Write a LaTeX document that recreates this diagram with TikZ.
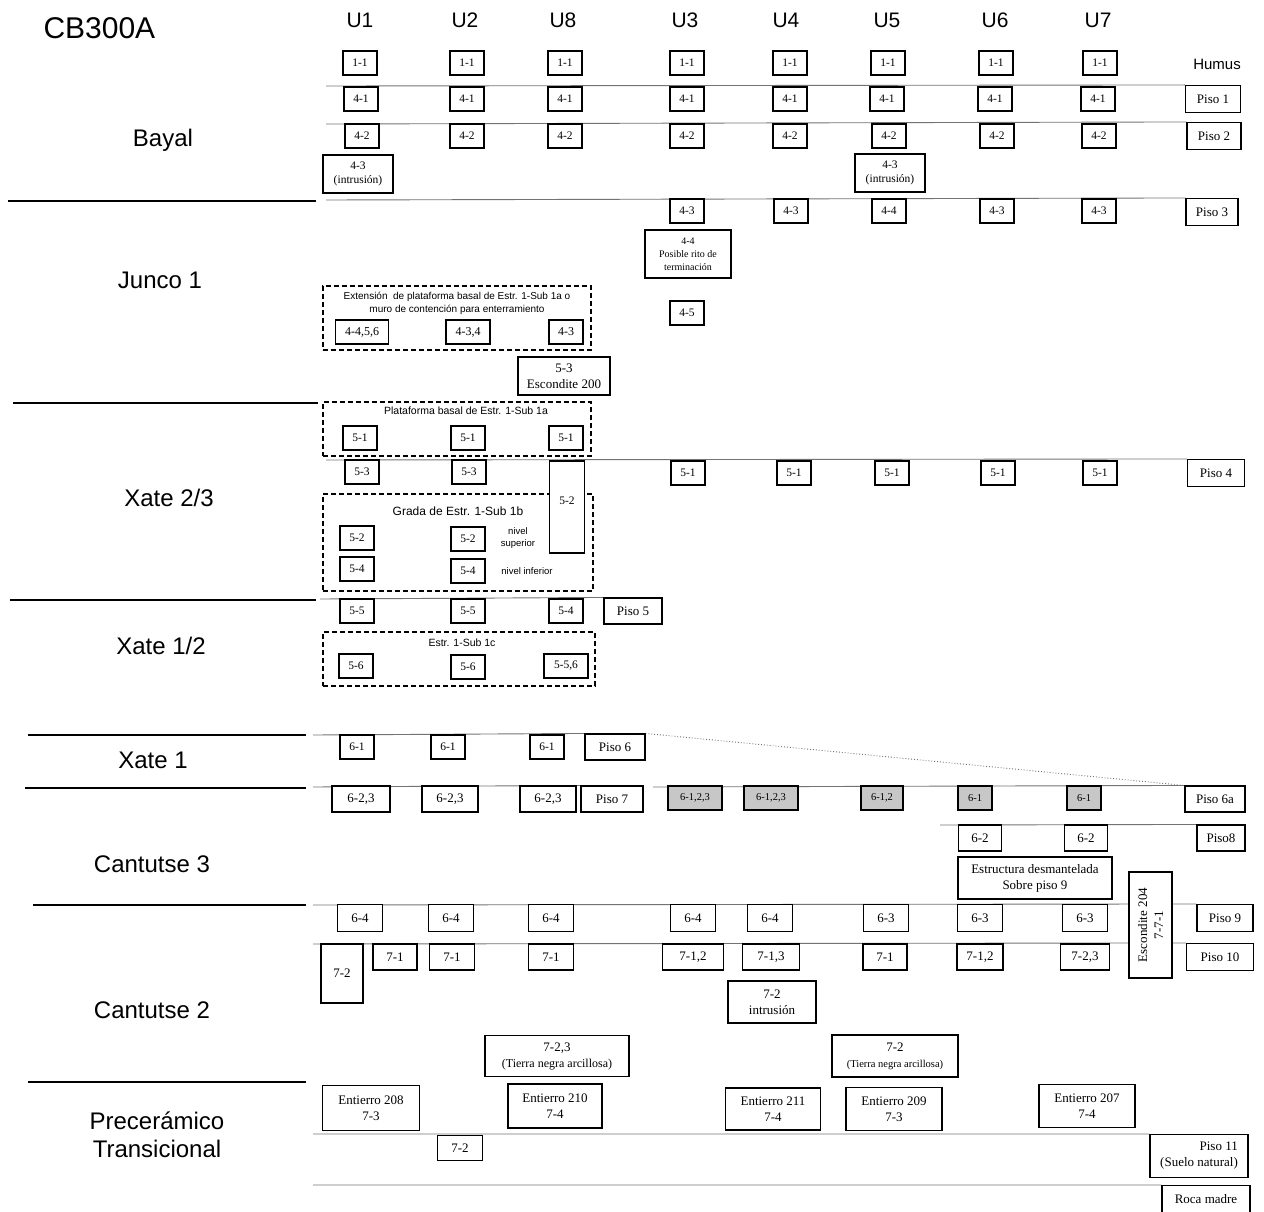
\documentclass[tikz,border=0pt]{standalone}
\usepackage{fontspec}
\setmainfont{Liberation Serif}
\setsansfont{Liberation Sans}
\usetikzlibrary{backgrounds}

\begin{document}
\begin{tikzpicture}[x=1pt, y=-1pt,
  tag/.style={rectangle, draw=black, line width=1.1pt, fill=white, inner sep=1pt, minimum width=34pt, minimum height=24pt, align=center, font=\fontsize{11.5}{14}\selectfont},
  lobox/.style={tag, minimum width=45pt, minimum height=26pt, font=\fontsize{13}{16}\selectfont},
  grbox/.style={tag, fill=black!22, font=\fontsize{10.5}{12}\selectfont},
  zone/.style={draw=black, line width=1.2pt, dash pattern=on 5pt off 3pt, inner sep=0pt},
  lvl/.style={draw=black!55, line width=0.9pt},
  era/.style={draw=black, line width=1.8pt},
  eralbl/.style={font=\sffamily\fontsize{24}{28}\selectfont, align=center},
  unit/.style={font=\sffamily\fontsize{21}{24}\selectfont},
  memo/.style={font=\sffamily\fontsize{10}{13}\selectfont, align=center, inner sep=0pt}]
\useasboundingbox (0,0) rectangle (1264,1212);

% site and periods
\node[font=\sffamily\fontsize{30}{34}\selectfont, anchor=west] (site) at (40,28) {CB300A};
\node[eralbl] (bayal) at (163,140) {Bayal};
\node[eralbl] (junco) at (160,280) {Junco 1};
\node[eralbl] (xate23) at (169,498) {Xate 2/3};
\node[eralbl] (xate12) at (161,646) {Xate 1/2};
\node[eralbl] (xate1) at (153,760) {Xate 1};
\node[eralbl] (cant3) at (152,864) {Cantutse 3};
\node[eralbl] (cant2) at (152,1010) {Cantutse 2};
\node[eralbl] (prec) at (157,1135) {Precerámico\\Transicional};
\draw[era] (8,201) -- (316,201);
\draw[era] (13,403) -- (318,403);
\draw[era] (10,600) -- (316,600);
\draw[era] (28,735) -- (306,735);
\draw[era] (25,788) -- (306,788);
\draw[era] (33,905) -- (306,905);
\draw[era] (28,1082) -- (306,1082);

% units
\foreach \x/\u in {360/U1,465/U2,563/U8,685/U3,786/U4,887/U5,995/U6,1098/U7}
  \node[unit] (u-\u) at (\x,20) {\u};
\node[font=\sffamily\fontsize{15}{17}\selectfont] (humus) at (1217,64) {Humus};

% Bayal
\foreach \x [count=\i] in {360,467,565,687,790,888,996,1100}
  \node[tag] (a\i) at (\x,63) {1-1};
\foreach \x [count=\i] in {361,467,565,687,790,887,995,1098}
  \node[tag] (b\i) at (\x,99) {4-1};
\foreach \x [count=\i] in {362,467,565,687,790,889,997,1099}
  \node[tag] (c\i) at (\x,136) {4-2};
\node[tag, minimum width=70pt, minimum height=38pt] (intr1) at (358,174) {4-3\\(intrusión)};
\node[tag, minimum width=70pt, minimum height=38pt] (intr5) at (890,173) {4-3\\(intrusión)};
\foreach \x/\t [count=\i] in {687/4-3,791/4-3,889/4-4,997/4-3,1099/4-3}
  \node[tag] (d\i) at (\x,211) {\t};
\node[lobox, minimum width=55pt, minimum height=27pt] (piso1) at (1213,99) {Piso 1};
\node[lobox, minimum width=54pt, minimum height=27pt] (piso2) at (1214,136) {Piso 2};
\node[lobox, minimum width=52pt, minimum height=27pt] (piso3) at (1212,212) {Piso 3};

% Junco 1
\node[tag, minimum width=86pt, minimum height=48pt, font=\fontsize{10}{13}\selectfont] (rito) at (688,254) {4-4\\Posible rito de\\terminación};
\node[tag] (d6) at (687,313) {4-5};
\node[zone, minimum width=268pt, minimum height=64pt] (ext) at (457,318) {};
\node[memo] (ext-t) at (457,303.5) {Extensión\ \ de plataforma basal de Estr. 1-Sub 1a o\\muro de contención para enterramiento};
\node[tag, minimum width=53pt, font=\fontsize{12}{14}\selectfont] (e1) at (362,332) {4-4,5,6};
\node[tag, minimum width=44pt, font=\fontsize{12}{14}\selectfont] (e2) at (468,332) {4-3,4};
\node[tag, font=\fontsize{12}{14}\selectfont] (e3) at (566,332) {4-3};
\node[lobox, minimum width=92pt, minimum height=38pt] (esc200) at (564,376) {5-3\\Escondite 200};

% Xate 2/3
\node[zone, minimum width=268pt, minimum height=54pt] (plat) at (457,429) {};
\node[memo, font=\sffamily\fontsize{10.5}{13}\selectfont] (plat-t) at (466,411) {Plataforma basal de Estr. 1-Sub 1a};
\foreach \x [count=\i] in {360,468,566}
  \node[tag] (f\i) at (\x,438) {5-1};
\node[tag] (g1) at (362,472) {5-3};
\node[tag] (g2) at (469,472) {5-3};
\foreach \x [count=\i] in {688,794,892,998,1100}
  \node[tag] (h\i) at (\x,473) {5-1};
\node[lobox, minimum width=57pt, minimum height=27pt] (piso4) at (1216,473) {Piso 4};
\node[zone, minimum width=270pt, minimum height=97pt] (grada) at (458,542.5) {};
\node[memo, font=\sffamily\fontsize{12}{14}\selectfont] (grada-t) at (458,511) {Grada de Estr. 1-Sub 1b};
\node[tag, minimum width=35pt, minimum height=92pt] (g3) at (567,507) {5-2\\[-2pt]~};
\node[tag] (k1) at (357,538) {5-2};
\node[tag] (k2) at (468,539) {5-2};
\node[memo, font=\sffamily\fontsize{9.5}{11.5}\selectfont] (sup) at (518,538) {nivel\\superior};
\node[tag] (k3) at (357,569) {5-4};
\node[tag] (k4) at (468,571) {5-4};
\node[memo, font=\sffamily\fontsize{9.5}{11.5}\selectfont] (inf) at (527,571) {nivel inferior};

% Xate 1/2
\node[tag] (m1) at (357,611) {5-5};
\node[tag] (m2) at (468,611) {5-5};
\node[tag] (m3) at (566,611) {5-4};
\node[lobox, minimum width=58pt] (piso5) at (633,611) {Piso 5};
\node[zone, minimum width=272pt, minimum height=54pt] (sub1c) at (459,659) {};
\node[memo, font=\sffamily\fontsize{10.5}{13}\selectfont] (sub1c-t) at (462,643) {Estr. 1-Sub 1c};
\node[tag] (n1) at (356,666) {5-6};
\node[tag] (n2) at (468,667) {5-6};
\node[tag, minimum width=44pt] (n3) at (566,666) {5-5,6};

% Xate 1
\foreach \x [count=\i] in {357,448,547}
  \node[tag] (p\i) at (\x,747) {6-1};
\node[lobox, minimum width=60pt] (piso6) at (615,747) {Piso 6};
\node[lobox, minimum width=58pt] (q1) at (361,799) {6-2,3};
\node[lobox, minimum width=56pt] (q2) at (450,799) {6-2,3};
\node[lobox, minimum width=56pt] (q3) at (548,799) {6-2,3};
\node[lobox, minimum width=62pt] (piso7) at (612,799) {Piso 7};
\node[grbox, minimum width=54pt] (r1) at (695,798) {6-1,2,3};
\node[grbox, minimum width=54pt] (r2) at (771,798) {6-1,2,3};
\node[grbox, minimum width=42pt] (r3) at (882,798) {6-1,2};
\node[grbox] (r4) at (975,798) {6-1};
\node[grbox] (r5) at (1084,798) {6-1};
\node[lobox, minimum width=60pt] (piso6a) at (1215,799) {Piso 6a};

% Cantutse 3
\node[lobox, minimum width=43pt] (s1) at (980,838) {6-2};
\node[lobox, minimum width=43pt] (s2) at (1086,838) {6-2};
\node[lobox, minimum width=48pt] (piso8) at (1221,838) {Piso8};
\node[lobox, minimum width=154pt, minimum height=42pt] (desm) at (1035,878) {Estructura desmantelada\\Sobre piso 9};

% Cantutse 2
\foreach \x/\t [count=\i] in {360/6-4,451/6-4,551/6-4,693/6-4,770/6-4,886/6-3,980/6-3,1085/6-3}
  \node[lobox, minimum height=27pt] (t\i) at (\x,918) {\t};
\node[lobox, minimum width=56pt, minimum height=27pt] (piso9) at (1225,918) {Piso 9};
\node[lobox, minimum width=42pt, minimum height=59pt] (v0) at (342,973.5) {7-2};
\foreach \x/\t/\w [count=\i] in {395/{7-1}/44,452/{7-1}/45,551/{7-1}/45,693/{7-1,2}/61,771/{7-1,3}/57,885/{7-1}/44,980/{7-1,2}/46,1085/{7-2,3}/49}
  \node[lobox, minimum width=\w pt] (v\i) at (\x,957) {\t};
\node[lobox, minimum width=67pt, minimum height=27pt] (piso10) at (1220,957) {Piso 10};
\node[lobox, rotate=90, minimum width=106pt, minimum height=43pt] (esc204) at (1150.5,925) {Escondite 204\\7-7-1};
\node[lobox, minimum width=88pt, minimum height=42pt] (intr4) at (772,1002) {7-2\\intrusión};
\node[lobox, minimum width=144pt, minimum height=41pt] (tn1) at (557,1056) {7-2,3\\{\fontsize{12}{14}\selectfont(Tierra negra arcillosa)}};
\node[lobox, minimum width=126pt, minimum height=42pt] (tn2) at (895,1056) {7-2\\{\fontsize{10.5}{12}\selectfont(Tierra negra arcillosa)}};

% Preceramico
\node[lobox, minimum width=97pt, minimum height=45pt] (ent208) at (371,1108) {Entierro 208\\7-3};
\node[lobox, minimum width=94pt, minimum height=44pt] (ent210) at (555,1106) {Entierro 210\\7-4};
\node[lobox, minimum width=95pt, minimum height=42pt] (ent211) at (773,1109) {Entierro 211\\7-4};
\node[lobox, minimum width=96pt, minimum height=43pt] (ent209) at (894,1109) {Entierro 209\\7-3};
\node[lobox, minimum width=96pt, minimum height=43pt] (ent207) at (1087,1106) {Entierro 207\\7-4};
\node[lobox, minimum width=45pt, minimum height=25pt] (w1) at (460,1148) {7-2};
\node[lobox, minimum width=98pt, minimum height=43pt, align=right] (piso11) at (1199,1156) {Piso 11\\(Suelo natural)};
\node[lobox, minimum width=88pt, minimum height=27pt] (roca) at (1206,1199) {Roca madre};

% floor lines
\begin{scope}[on background layer]
\draw[lvl] (326,86) -- (piso1.north west);
\draw[lvl] (326,124) -- (piso2.north west);
\draw[lvl] (326,200) -- (piso3.north west);
\draw[lvl] (326,460) -- (piso4.north west);
\draw[lvl] (320,599) -- (piso5.north west);
\draw[lvl] (313,735) -- (piso6.north west);
\draw[lvl] (313,787) -- (piso7.north west);
\draw[lvl] (653,787) -- (piso6a.north west);
\draw[lvl, dotted] (piso6.north east) -- (piso6a.north west);
\draw[lvl] (940,825) -- (piso8.north west);
\draw[lvl] (313,905) -- (piso9.north west);
\draw[lvl] (313,944) -- (piso10.north west);
\draw[lvl] (313,1134) -- (piso11.north west);
\draw[lvl] (313,1185) -- (roca.north west);
\end{scope}
\end{tikzpicture}
\end{document}
